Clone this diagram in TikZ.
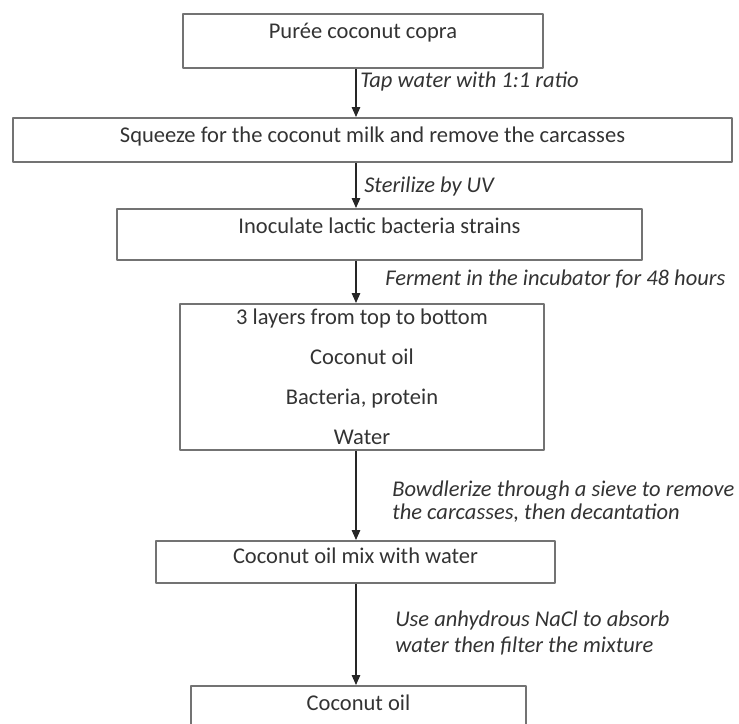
\documentclass[tikz,border=0pt]{standalone}
\usepackage{fontspec}
\setmainfont{Carlito}
\usetikzlibrary{arrows.meta}
\begin{document}
\begin{tikzpicture}[x=0.025cm, y=-0.025cm, >={Stealth[length=7pt,width=6pt,inset=0pt]},
	line join=round, font=\fontsize{16}{19}\selectfont, text=black!80,
	box/.style={draw=black!55, line width=1.3pt, inner sep=0pt, anchor=north},
	note/.style={font=\fontsize{16}{19}\selectfont\itshape, inner sep=0pt, align=left},
	arr/.style={->, draw=black!85, line width=0.9pt}]
	\useasboundingbox (0,0) rectangle (739,724);
	\coordinate (axis) at (356,0);
	\node[box, minimum width=9cm, text height=0.625cm, text depth=0.725cm] (puree) at (363,13) {Purée coconut copra};
	\node[box, minimum width=17.975cm, text height=0.625cm, text depth=0.475cm] (squeeze) at (372.5,117) {Squeeze for the coconut milk and remove the carcasses};
	\node[box, minimum width=13.125cm, text height=0.625cm, text depth=0.65cm] (inoculate) at (379.5,208) {Inoculate lactic bacteria strains};
	\node[box, minimum width=9.1cm, minimum height=3.65cm, align=center, font=\fontsize{16}{28.45}\selectfont] (layers) at (362,303) {3 layers from top to bottom\\Coconut oil\\Bacteria, protein\\Water};
	\node[box, minimum width=9.975cm, text height=0.575cm, text depth=0.475cm] (mix) at (355.5,540) {Coconut oil mix with water};
	\node[box, minimum width=8.375cm, text height=0.625cm, text depth=0.475cm] (oil) at (358.5,685) {Coconut oil};
	\draw[arr] (puree.south -| axis) -- (squeeze.north -| axis);
	\draw[arr] (squeeze.south -| axis) -- (inoculate.north -| axis);
	\draw[arr] (inoculate.south -| axis) -- (layers.north -| axis);
	\draw[arr] (layers.south -| axis) -- (mix.north -| axis);
	\draw[arr] (mix.south -| axis) -- (oil.north -| axis);
	\node[note, anchor=base west] (tap) at (360,87) {Tap water with 1:1 ratio};
	\node[note, anchor=base west] (uv) at (364,192) {Sterilize by UV};
	\node[note, anchor=base west] (ferment) at (385,285) {Ferment in the incubator for 48 hours};
	\node[note, anchor=west, font=\fontsize{16}{16.4}\selectfont\itshape] (sieve) at (392,502) {Bowdlerize through a sieve to remove\\the carcasses, then decantation};
	\node[note, anchor=west, font=\fontsize{16}{17.8}\selectfont\itshape] (nacl) at (395,633) {Use anhydrous NaCl to absorb\\water then filter the mixture};
\end{tikzpicture}
\end{document}
